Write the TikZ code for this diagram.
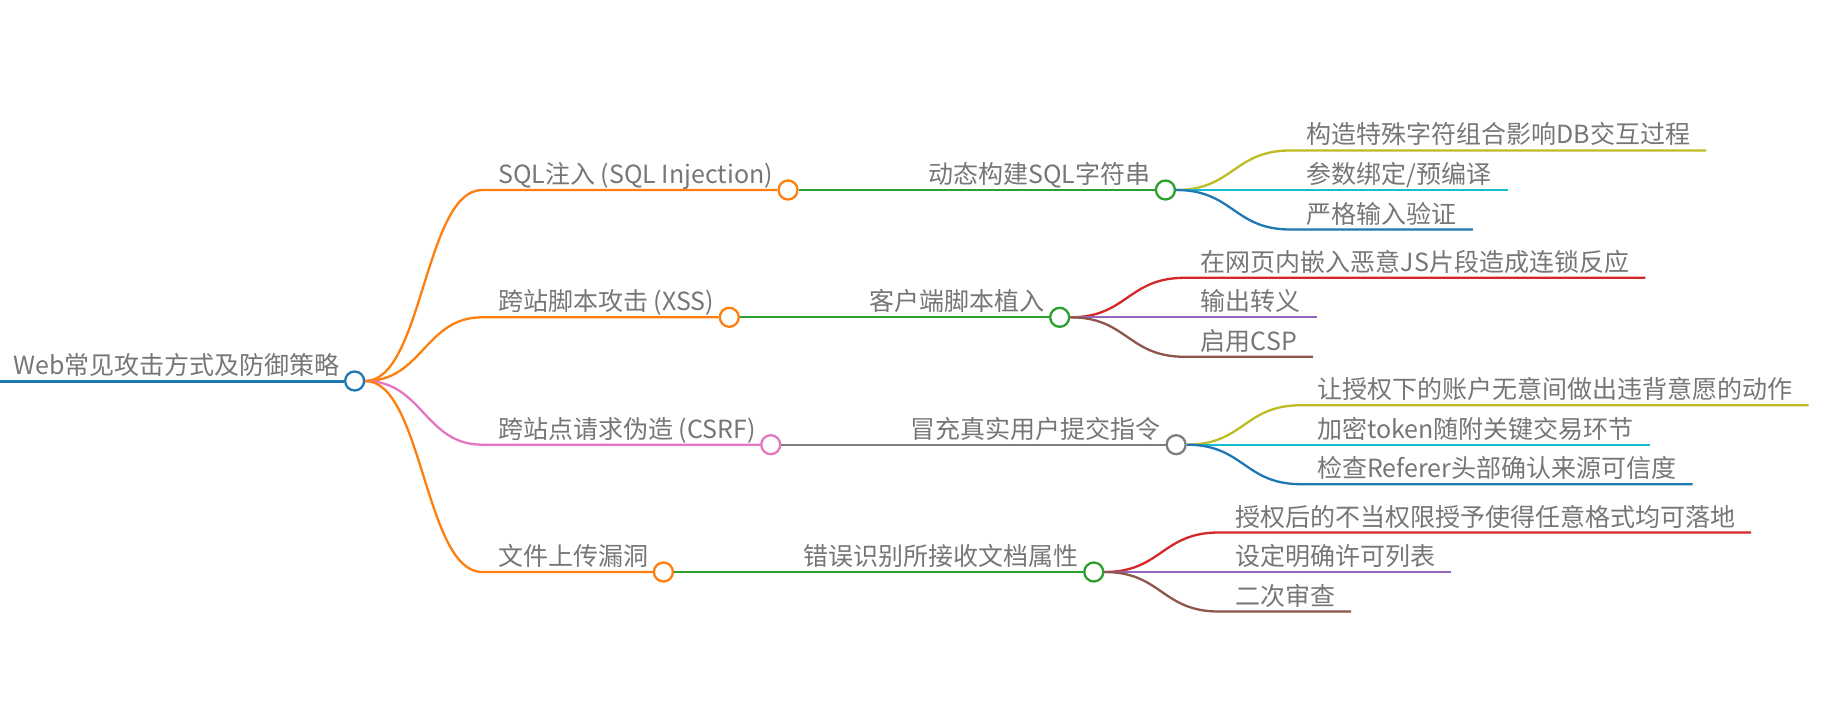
\documentclass[tikz,border=0pt]{standalone}
\usepackage{fontspec}
\setmainfont{Noto Sans CJK SC}
\usepackage{tikz}
\usetikzlibrary{calc, positioning}

\definecolor{mmblue}{HTML}{1F77B4}
\definecolor{mmorange}{HTML}{FF7F0E}
\definecolor{mmgreen}{HTML}{2CA02C}
\definecolor{mmred}{HTML}{D62728}
\definecolor{mmpurple}{HTML}{9467BD}
\definecolor{mmbrown}{HTML}{8C564B}
\definecolor{mmpink}{HTML}{E377C2}
\definecolor{mmgray}{HTML}{7F7F7F}
\definecolor{mmolive}{HTML}{BCBD22}
\definecolor{mmcyan}{HTML}{17BECF}
\definecolor{txtgray}{RGB}{118,118,118}

\begin{document}
\begin{tikzpicture}[x=1pt, y=-1pt,
        topic/.style={anchor=base west, inner sep=0pt, text=txtgray, font=\fontsize{25}{30}\selectfont},
        leaf/.style={topic, inner xsep=16pt},
        dot/.style={circle, draw=#1, fill=white, line width=2.3pt, minimum size=19pt, inner sep=0pt},
        branch/.style={draw=#1, line width=2.3pt}]
        \useasboundingbox (0,0) rectangle (1830,714);
        % root
        \node[topic] (root) at (13,374.5) {Web常见攻击方式及防御策略};
        \node[dot=mmblue] (rootdot) at ($(root.base east)+(15,6.5)$) {};
        \coordinate (rootstart) at (0,381);
        \draw[branch=mmblue, line width=3pt] (rootstart) -- (rootdot.west);

        % SQL injection
        \coordinate (sqlstart) at (482,190);
        \node[topic] (sql) at ($(sqlstart)+(16,-6.5)$) {SQL注入 (SQL Injection)};
        \node[dot=mmorange] (sqldot) at ($(sql.base east)+(15,6.5)$) {};
        \draw[branch=mmorange] (rootdot.east) .. controls +(57,0) and +(-57,0) .. (sqlstart) -- (sqldot.west);
        \node[topic] (sqlsub) at ($(sqldot.center)+(140,-6.5)$) {动态构建SQL字符串};
        \node[dot=mmgreen] (sqlsubdot) at ($(sqlsub.base east)+(15,6.5)$) {};
        \draw[branch=mmgreen] (sqldot.east) -- (sqlsubdot.west);
        \coordinate (sqlleafa) at ($(sqlsubdot.center)+(125,-39.5)$);
        \coordinate (sqlleafb) at ($(sqlsubdot.center)+(125,0)$);
        \coordinate (sqlleafc) at ($(sqlsubdot.center)+(125,39.5)$);
        \node[leaf] (sqla) at ($(sqlleafa)+(0,-6.5)$) {构造特殊字符组合影响DB交互过程};
        \node[leaf] (sqlb) at ($(sqlleafb)+(0,-6.5)$) {参数绑定/预编译};
        \node[leaf] (sqlc) at ($(sqlleafc)+(0,-6.5)$) {严格输入验证};
        \draw[branch=mmolive] (sqlsubdot.east) .. controls +(57,0) and +(-57,0) .. (sqlleafa) -- (sqlleafa -| sqla.east);
        \draw[branch=mmcyan] (sqlsubdot.east) -- (sqlleafb) -- (sqlleafb -| sqlb.east);
        \draw[branch=mmblue] (sqlsubdot.east) .. controls +(57,0) and +(-57,0) .. (sqlleafc) -- (sqlleafc -| sqlc.east);

        % XSS
        \coordinate (xssstart) at (482,317.3);
        \node[topic] (xss) at ($(xssstart)+(16,-6.5)$) {跨站脚本攻击 (XSS)};
        \node[dot=mmorange] (xssdot) at ($(xss.base east)+(15,6.5)$) {};
        \draw[branch=mmorange] (rootdot.east) .. controls +(57,0) and +(-57,0) .. (xssstart) -- (xssdot.west);
        \node[topic] (xsssub) at ($(xssdot.center)+(140,-6.5)$) {客户端脚本植入};
        \node[dot=mmgreen] (xsssubdot) at ($(xsssub.base east)+(15,6.5)$) {};
        \draw[branch=mmgreen] (xssdot.east) -- (xsssubdot.west);
        \coordinate (xssleafa) at ($(xsssubdot.center)+(125,-39.5)$);
        \coordinate (xssleafb) at ($(xsssubdot.center)+(125,0)$);
        \coordinate (xssleafc) at ($(xsssubdot.center)+(125,39.5)$);
        \node[leaf] (xssa) at ($(xssleafa)+(0,-6.5)$) {在网页内嵌入恶意JS片段造成连锁反应};
        \node[leaf] (xssb) at ($(xssleafb)+(0,-6.5)$) {输出转义};
        \node[leaf] (xssc) at ($(xssleafc)+(0,-6.5)$) {启用CSP};
        \draw[branch=mmred] (xsssubdot.east) .. controls +(57,0) and +(-57,0) .. (xssleafa) -- (xssleafa -| xssa.east);
        \draw[branch=mmpurple] (xsssubdot.east) -- (xssleafb) -- (xssleafb -| xssb.east);
        \draw[branch=mmbrown] (xsssubdot.east) .. controls +(57,0) and +(-57,0) .. (xssleafc) -- (xssleafc -| xssc.east);

        % CSRF
        \coordinate (csrfstart) at (482,444.7);
        \node[topic] (csrf) at ($(csrfstart)+(16,-6.5)$) {跨站点请求伪造 (CSRF)};
        \node[dot=mmpink] (csrfdot) at ($(csrf.base east)+(15,6.5)$) {};
        \draw[branch=mmpink] (rootdot.east) .. controls +(57,0) and +(-57,0) .. (csrfstart) -- (csrfdot.west);
        \node[topic] (csrfsub) at ($(csrfdot.center)+(140,-6.5)$) {冒充真实用户提交指令};
        \node[dot=mmgray] (csrfsubdot) at ($(csrfsub.base east)+(15,6.5)$) {};
        \draw[branch=mmgray] (csrfdot.east) -- (csrfsubdot.west);
        \coordinate (csrfleafa) at ($(csrfsubdot.center)+(125,-39.5)$);
        \coordinate (csrfleafb) at ($(csrfsubdot.center)+(125,0)$);
        \coordinate (csrfleafc) at ($(csrfsubdot.center)+(125,39.5)$);
        \node[leaf] (csrfa) at ($(csrfleafa)+(0,-6.5)$) {让授权下的账户无意间做出违背意愿的动作};
        \node[leaf] (csrfb) at ($(csrfleafb)+(0,-6.5)$) {加密token随附关键交易环节};
        \node[leaf] (csrfc) at ($(csrfleafc)+(0,-6.5)$) {检查Referer头部确认来源可信度};
        \draw[branch=mmolive] (csrfsubdot.east) .. controls +(57,0) and +(-57,0) .. (csrfleafa) -- (csrfleafa -| csrfa.east);
        \draw[branch=mmcyan] (csrfsubdot.east) -- (csrfleafb) -- (csrfleafb -| csrfb.east);
        \draw[branch=mmblue] (csrfsubdot.east) .. controls +(57,0) and +(-57,0) .. (csrfleafc) -- (csrfleafc -| csrfc.east);

        % file upload
        \coordinate (filestart) at (482,572);
        \node[topic] (file) at ($(filestart)+(16,-6.5)$) {文件上传漏洞};
        \node[dot=mmorange] (filedot) at ($(file.base east)+(15,6.5)$) {};
        \draw[branch=mmorange] (rootdot.east) .. controls +(57,0) and +(-57,0) .. (filestart) -- (filedot.west);
        \node[topic] (filesub) at ($(filedot.center)+(140,-6.5)$) {错误识别所接收文档属性};
        \node[dot=mmgreen] (filesubdot) at ($(filesub.base east)+(15,6.5)$) {};
        \draw[branch=mmgreen] (filedot.east) -- (filesubdot.west);
        \coordinate (fileleafa) at ($(filesubdot.center)+(125,-39.5)$);
        \coordinate (fileleafb) at ($(filesubdot.center)+(125,0)$);
        \coordinate (fileleafc) at ($(filesubdot.center)+(125,39.5)$);
        \node[leaf] (filea) at ($(fileleafa)+(0,-6.5)$) {授权后的不当权限授予使得任意格式均可落地};
        \node[leaf] (fileb) at ($(fileleafb)+(0,-6.5)$) {设定明确许可列表};
        \node[leaf] (filec) at ($(fileleafc)+(0,-6.5)$) {二次审查};
        \draw[branch=mmred] (filesubdot.east) .. controls +(57,0) and +(-57,0) .. (fileleafa) -- (fileleafa -| filea.east);
        \draw[branch=mmpurple] (filesubdot.east) -- (fileleafb) -- (fileleafb -| fileb.east);
        \draw[branch=mmbrown] (filesubdot.east) .. controls +(57,0) and +(-57,0) .. (fileleafc) -- (fileleafc -| filec.east);
    \end{tikzpicture}
\end{document}
